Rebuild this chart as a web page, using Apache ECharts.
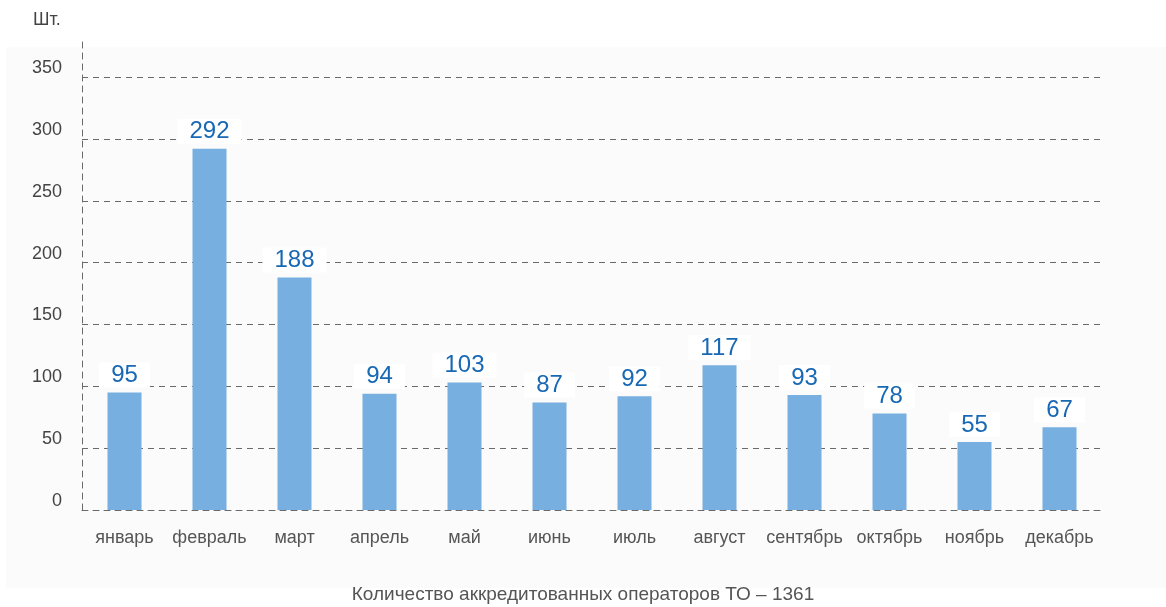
<!DOCTYPE html>
<html>
<head>
<meta charset="utf-8">
<script src="https://cdn.jsdelivr.net/npm/echarts@6/dist/echarts.min.js"></script>
<style>
html,body{margin:0;padding:0;background:#fff;}
#c{width:1166px;height:607px;}
</style>
</head>
<body>
<div id="c"></div>
<script>
const categories = ['январь','февраль','март','апрель','май','июнь','июль','август','сентябрь','октябрь','ноябрь','декабрь'];
const values = [95, 292, 188, 94, 103, 87, 92, 117, 93, 78, 55, 67];
const yTicks = [0, 50, 100, 150, 200, 250, 300, 350];
const unitLabel = 'Шт.';
const caption = 'Количество аккредитованных операторов ТО – 1361';

const FONT = '"Liberation Sans", Arial, sans-serif';
const chart = echarts.init(document.getElementById('c'), null, {renderer: 'canvas'});
const dashStyle = {color: '#6a6a6a', width: 1, type: [6, 5]};

chart.setOption({
  backgroundColor: '#ffffff',
  animation: false,
  graphic: [
    {type: 'rect', z: -10, shape: {x: 6, y: 47, width: 1160, height: 541}, style: {fill: '#fbfbfb'}},
    {type: 'text', left: 33, top: 11, style: {text: unitLabel, font: '18px ' + FONT, fill: '#444'}},
    {type: 'text', left: 'center', top: 585, style: {text: caption, font: '19px ' + FONT, fill: '#555'}}
  ],
  grid: {left: 82, right: 64, top: 40, bottom: 97, containLabel: false},
  xAxis: {
    type: 'category',
    data: categories,
    axisLine: {show: true, lineStyle: dashStyle},
    axisTick: {show: false},
    axisLabel: {color: '#555', fontFamily: FONT, fontSize: 18, margin: 19, interval: 0}
  },
  yAxis: {
    type: 'value',
    min: 0,
    max: 380,
    interval: 50,
    axisLine: {show: true, lineStyle: dashStyle},
    axisTick: {show: false},
    axisLabel: {
      color: '#444', fontFamily: FONT, fontSize: 18, margin: 20,
      showMaxLabel: false,
      verticalAlign: 'bottom',
      formatter: v => yTicks.includes(v) ? String(v) : ''
    },
    splitLine: {show: true, showMaxLine: false, lineStyle: dashStyle}
  },
  series: [{
    type: 'bar',
    data: values,
    barWidth: 34,
    itemStyle: {color: '#77b0e0'},
    label: {
      show: true,
      position: 'top',
      distance: 5,
      color: '#1868b4',
      fontFamily: FONT,
      fontSize: 24,
      backgroundColor: '#ffffff',
      padding: [1, 12, 0, 12]
    }
  }]
});
</script>
</body>
</html>
